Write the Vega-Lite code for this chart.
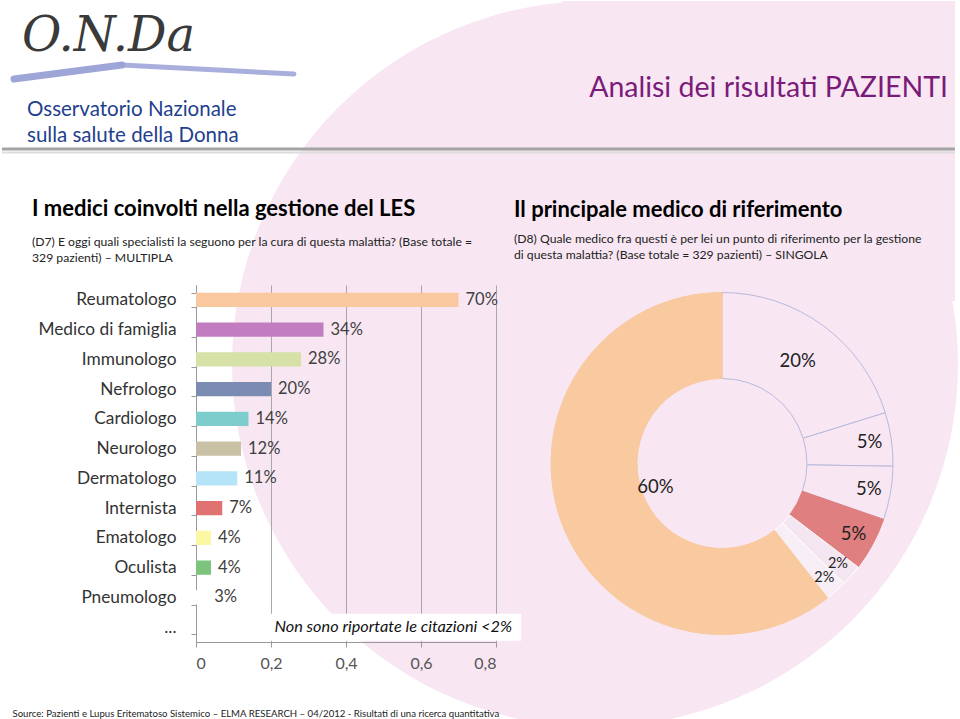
{
  "$schema": "https://vega.github.io/schema/vega-lite/v6.json",
  "background": "white",
  "padding": 0,
  "config": {"font": "Lato", "view": {"stroke": null}},
  "bounds": "flush",
  "columns": 2,
  "spacing": {"row": 136, "column": 18},
  "resolve": {"scale": {"color": "independent", "stroke": "independent", "size": "independent"}},
  "datasets": {
    "intestazione": [
      {"parte": "logo", "testo": "O.N.Da"},
      {"parte": "riga1", "testo": "Osservatorio Nazionale"},
      {"parte": "riga2", "testo": "sulla salute della Donna"},
      {"parte": "sezione", "testo": "Analisi dei risultati PAZIENTI"}
    ],
    "medici": [
      {"medico": "Reumatologo", "quota": 0.70, "etichetta": "70%"},
      {"medico": "Medico di famiglia", "quota": 0.34, "etichetta": "34%"},
      {"medico": "Immunologo", "quota": 0.28, "etichetta": "28%"},
      {"medico": "Nefrologo", "quota": 0.20, "etichetta": "20%"},
      {"medico": "Cardiologo", "quota": 0.14, "etichetta": "14%"},
      {"medico": "Neurologo", "quota": 0.12, "etichetta": "12%"},
      {"medico": "Dermatologo", "quota": 0.11, "etichetta": "11%"},
      {"medico": "Internista", "quota": 0.07, "etichetta": "7%"},
      {"medico": "Ematologo", "quota": 0.04, "etichetta": "4%"},
      {"medico": "Oculista", "quota": 0.04, "etichetta": "4%"},
      {"medico": "Pneumologo", "quota": 0.03, "etichetta": "3%"}
    ],
    "nota": [{"nota": "Non sono riportate le citazioni <2%"}],
    "riferimento": [
      {"figura": "Medico di famiglia", "ordine": 1, "quota": 20, "etichetta": "20%"},
      {"figura": "Immunologo", "ordine": 2, "quota": 5, "etichetta": "5%"},
      {"figura": "Nefrologo", "ordine": 3, "quota": 5, "etichetta": "5%"},
      {"figura": "Internista", "ordine": 4, "quota": 5, "etichetta": "5%"},
      {"figura": "Cardiologo", "ordine": 5, "quota": 2, "etichetta": "2%"},
      {"figura": "Altri", "ordine": 6, "quota": 2, "etichetta": "2%"},
      {"figura": "Reumatologo", "ordine": 7, "quota": 60, "etichetta": "60%"}
    ]
  },
  "concat": [
    {
      "width": 300,
      "height": 148,
      "data": {"name": "intestazione"},
      "layer": [
        {
          "transform": [{"filter": "datum.parte == 'logo'"}],
          "mark": {"type": "arc", "radius": 363, "theta": 0, "theta2": 6.2832, "color": "#f8e7f3"},
          "encoding": {
            "x": {"datum": 1.33, "type": "quantitative", "scale": {"domain": [0, 1], "nice": false, "zero": false}, "axis": null},
            "y": {"datum": -1.4527, "type": "quantitative", "scale": {"domain": [0, 1], "nice": false, "zero": false}, "axis": null}
          }
        },
        {
          "transform": [{"filter": "datum.parte == 'logo'"}],
          "mark": {"type": "rect", "color": "#f8e7f3"},
          "encoding": {
            "x": {"datum": 1.22, "type": "quantitative"},
            "x2": {"datum": 2.53},
            "y": {"datum": 1, "type": "quantitative"},
            "y2": {"datum": -1.027}
          }
        },
        {
          "transform": [{"filter": "datum.parte == 'logo'"}],
          "mark": {"type": "rule", "color": "#dcdcdc", "strokeWidth": 2},
          "encoding": {
            "x": {"datum": -0.6467, "type": "quantitative"},
            "x2": {"datum": 2.53},
            "y": {"datum": -0.024, "type": "quantitative"}
          }
        },
        {
          "transform": [{"filter": "datum.parte == 'logo'"}],
          "mark": {"type": "rule", "color": "#a3a3a3", "strokeWidth": 3},
          "encoding": {
            "x": {"datum": -0.6467, "type": "quantitative"},
            "x2": {"datum": 2.53},
            "y": {"datum": 0, "type": "quantitative"}
          }
        },
        {
          "transform": [{"filter": "datum.parte == 'logo'"}],
          "mark": {"type": "rule", "color": "#8d95d0", "strokeWidth": 7, "strokeCap": "round", "opacity": 0.85},
          "encoding": {
            "x": {"datum": -0.6067, "type": "quantitative"},
            "x2": {"datum": -0.2467},
            "y": {"datum": 0.473, "type": "quantitative"},
            "y2": {"datum": 0.5676}
          }
        },
        {
          "transform": [{"filter": "datum.parte == 'logo'"}],
          "mark": {"type": "rule", "color": "#9aa1d6", "strokeWidth": 5, "strokeCap": "round", "opacity": 0.85},
          "encoding": {
            "x": {"datum": -0.2467, "type": "quantitative"},
            "x2": {"datum": 0.3267},
            "y": {"datum": 0.5676, "type": "quantitative"},
            "y2": {"datum": 0.5068}
          }
        },
        {
          "transform": [{"filter": "datum.parte == 'logo'"}],
          "mark": {"type": "text", "font": "DejaVu Serif", "fontStyle": "italic", "fontSize": 48, "color": "#3a3a3a", "align": "left", "baseline": "alphabetic"},
          "encoding": {
            "x": {"datum": -0.58, "type": "quantitative"},
            "y": {"datum": 0.662, "type": "quantitative"},
            "text": {"field": "testo"}
          }
        },
        {
          "transform": [{"filter": "datum.parte == 'riga1'"}],
          "mark": {"type": "text", "fontSize": 20.5, "color": "#23408e", "align": "left", "baseline": "alphabetic"},
          "encoding": {
            "x": {"datum": -0.5633, "type": "quantitative"},
            "y": {"datum": 0.223, "type": "quantitative"},
            "text": {"field": "testo"}
          }
        },
        {
          "transform": [{"filter": "datum.parte == 'riga2'"}],
          "mark": {"type": "text", "fontSize": 20.5, "color": "#23408e", "align": "left", "baseline": "alphabetic"},
          "encoding": {
            "x": {"datum": -0.5633, "type": "quantitative"},
            "y": {"datum": 0.047, "type": "quantitative"},
            "text": {"field": "testo"}
          }
        }
      ]
    },
    {
      "width": 416,
      "height": 148,
      "data": {"name": "intestazione"},
      "transform": [{"filter": "datum.parte == 'sezione'"}],
      "mark": {"type": "text", "fontSize": 28.5, "color": "#7a1b7a", "align": "right", "baseline": "alphabetic"},
      "encoding": {
        "x": {"datum": 1.0433, "type": "quantitative", "scale": {"domain": [0, 1], "nice": false, "zero": false}, "axis": null},
        "y": {"datum": 0.3514, "type": "quantitative", "scale": {"domain": [0, 1], "nice": false, "zero": false}, "axis": null},
        "text": {"field": "testo"}
      }
    },
    {
      "width": 300,
      "height": 357,
      "title": {
        "text": "I medici coinvolti nella gestione del LES",
        "subtitle": ["(D7) E oggi quali specialisti la seguono per la cura di questa malattia? (Base totale =", "329 pazienti) – MULTIPLA"],
        "anchor": "start",
        "frame": "group",
        "dx": -164,
        "offset": 11,
        "fontSize": 22,
        "fontWeight": "bold",
        "color": "#000000",
        "subtitleFontSize": 12.2,
        "subtitleColor": "#222222",
        "subtitlePadding": 15,
        "subtitleLineHeight": 16
      },
      "layer": [
        {
          "data": {"name": "medici"},
          "mark": {"type": "bar"},
          "encoding": {
            "y": {
              "field": "medico", "type": "nominal", "sort": null,
              "scale": {"domain": ["Reumatologo", "Medico di famiglia", "Immunologo", "Nefrologo", "Cardiologo", "Neurologo", "Dermatologo", "Internista", "Ematologo", "Oculista", "Pneumologo", "..."], "paddingInner": 0.52, "paddingOuter": 0.26},
              "axis": {"title": null, "tickBand": "extent", "tickSize": 5, "tickColor": "#999999", "domainColor": "#999999", "labelFontSize": 17.3, "labelColor": "#333333", "labelPadding": 15, "grid": false}
            },
            "x": {
              "field": "quota", "type": "quantitative",
              "scale": {"domain": [0, 0.8], "nice": false},
              "axis": {
                "title": "Source:  Pazienti e Lupus Eritematoso Sistemico – ELMA RESEARCH – 04/2012 - Risultati di una ricerca quantitativa",
                "titleAnchor": "start", "titleAlign": "left", "titleBaseline": "alphabetic",
                "titleX": -184, "titleY": 74, "titleFontSize": 9.6, "titleFontWeight": "normal", "titleColor": "#222222",
                "values": [0, 0.2, 0.4, 0.6, 0.8],
                "labelExpr": "datum.value == 0 ? '0' : replace(format(datum.value, '.1f'), '.', ',')",
                "labelFontSize": 16, "labelColor": "#555555", "labelPadding": 8,
                "tickSize": 5, "tickColor": "#999999", "domainColor": "#999999",
                "grid": true, "gridColor": "#a8a8a8"
              }
            },
            "color": {
              "field": "medico", "type": "nominal", "legend": null,
              "scale": {
                "domain": ["Reumatologo", "Medico di famiglia", "Immunologo", "Nefrologo", "Cardiologo", "Neurologo", "Dermatologo", "Internista", "Ematologo", "Oculista", "Pneumologo"],
                "range": ["#fac89e", "#c27cc0", "#d5e1a6", "#7b8bb1", "#7ccdcc", "#c9c1a6", "#b5e3f7", "#e07272", "#fbf7a2", "#7cc47e", "#ffffff"]
              }
            }
          }
        },
        {
          "data": {"name": "medici"},
          "mark": {"type": "text", "align": "left", "baseline": "middle", "dx": 7, "fontSize": 16.5, "color": "#404040"},
          "encoding": {
            "y": {"field": "medico", "type": "nominal", "sort": null},
            "x": {"field": "quota", "type": "quantitative"},
            "text": {"field": "etichetta"}
          }
        },
        {
          "data": {"name": "nota"},
          "mark": {"type": "bar", "color": "#ffffff", "height": 27},
          "encoding": {
            "y": {"datum": "...", "type": "nominal"},
            "x": {"datum": 0.19, "type": "quantitative"},
            "x2": {"datum": 0.867}
          }
        },
        {
          "data": {"name": "nota"},
          "mark": {"type": "text", "align": "right", "baseline": "middle", "fontStyle": "italic", "fontSize": 16.3, "color": "#111111"},
          "encoding": {
            "y": {"datum": "...", "type": "nominal"},
            "x": {"datum": 0.843, "type": "quantitative"},
            "text": {"field": "nota"}
          }
        }
      ]
    },
    {
      "width": 416,
      "height": 357,
      "title": {
        "text": "Il principale medico di riferimento",
        "subtitle": ["(D8) Quale medico fra questi è per lei un punto di riferimento per la gestione", "di questa malattia?  (Base totale = 329 pazienti) – SINGOLA"],
        "anchor": "start",
        "frame": "group",
        "offset": 23,
        "fontSize": 22,
        "fontWeight": "bold",
        "color": "#000000",
        "subtitleFontSize": 12.2,
        "subtitleColor": "#222222",
        "subtitlePadding": 11,
        "subtitleLineHeight": 16
      },
      "data": {"name": "riferimento"},
      "layer": [
        {
          "mark": {"type": "arc", "outerRadius": 171, "innerRadius": 85, "strokeWidth": 1},
          "encoding": {
            "theta": {"field": "quota", "type": "quantitative", "stack": true},
            "order": {"field": "ordine"},
            "color": {
              "field": "figura", "type": "nominal", "legend": null,
              "scale": {
                "domain": ["Medico di famiglia", "Immunologo", "Nefrologo", "Internista", "Cardiologo", "Altri", "Reumatologo"],
                "range": ["#f8e7f3", "#f8e7f3", "#f8e7f3", "#df7f80", "#f4e6f0", "#f7eff5", "#f9c9a0"]
              }
            },
            "stroke": {
              "field": "figura", "type": "nominal", "legend": null,
              "scale": {
                "domain": ["Medico di famiglia", "Immunologo", "Nefrologo", "Internista", "Cardiologo", "Altri", "Reumatologo"],
                "range": ["#b9b9dd", "#b9b9dd", "#b9b9dd", "#df7f80", "#ffffff", "#ffffff", "#f9c9a0"]
              }
            }
          }
        },
        {
          "mark": {"type": "text", "color": "#222222", "baseline": "middle", "align": "center"},
          "encoding": {
            "theta": {"field": "quota", "type": "quantitative", "stack": true},
            "order": {"field": "ordine"},
            "radius": {"field": "quota", "type": "quantitative", "scale": {"type": "threshold", "domain": [3, 10], "range": [152, 142, 128]}},
            "size": {"field": "quota", "type": "quantitative", "legend": null, "scale": {"type": "threshold", "domain": [3], "range": [14.5, 18.5]}},
            "text": {"field": "etichetta"}
          }
        }
      ]
    }
  ]
}
